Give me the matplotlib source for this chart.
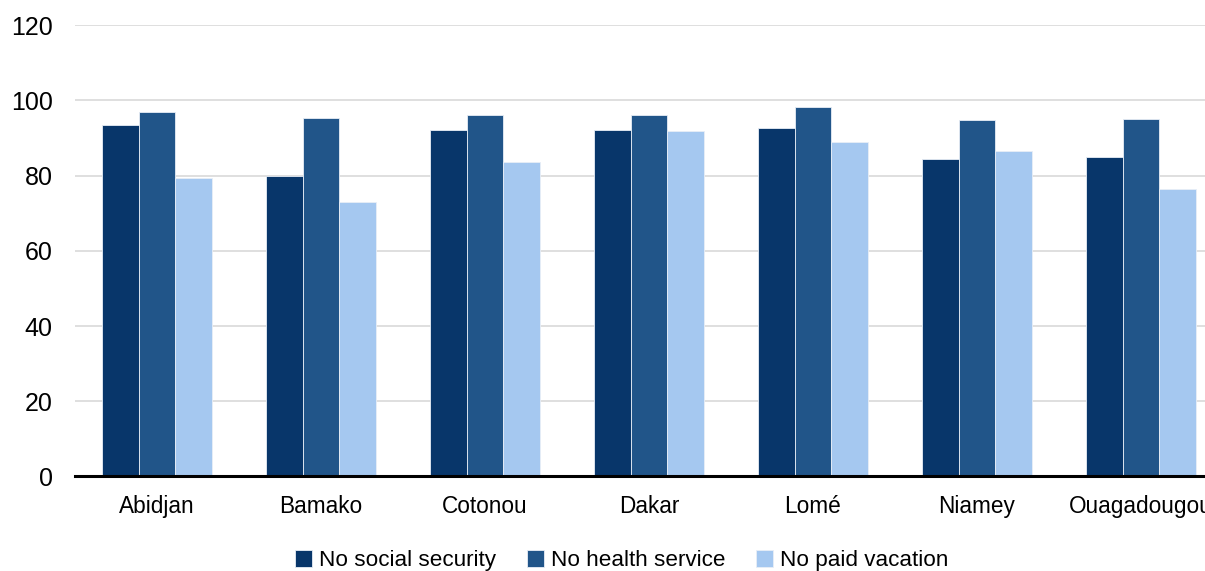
import numpy as np
import matplotlib
matplotlib.use("Agg")
import matplotlib.pyplot as plt

plt.rcParams['font.family'] = ['Liberation Sans', 'DejaVu Sans']

cities = ['Abidjan', 'Bamako', 'Cotonou', 'Dakar', 'Lomé', 'Niamey', 'Ouagadougou']
no_social_security = [93.4, 80.0, 92.0, 92.0, 92.7, 84.5, 84.9]
no_health_service = [96.8, 95.3, 96.2, 96.0, 98.2, 94.8, 95.0]
no_paid_vacation = [79.4, 72.9, 83.7, 91.8, 88.8, 86.6, 76.4]

series = [
    ('No social security', no_social_security, '#08366a'),
    ('No health service', no_health_service, '#215589'),
    ('No paid vacation', no_paid_vacation, '#a5c8f0'),
]

fig = plt.figure(figsize=(12.05, 5.71), dpi=100)
# axes runs a little past the right edge, so the last label gets cut
ax = fig.add_axes([0.0622, 0.1655, 0.9527, 0.7907])

x = np.arange(len(cities))
width = 0.223
for i, (name, vals, color) in enumerate(series):
    ax.bar(x + (i - 1) * width, vals, width, color=color, label=name,
           edgecolor='#e8eef6', linewidth=0.6, zorder=3)

ax.set_xlim(-0.5, len(cities) - 0.5)
ax.set_ylim(0, 120)
ax.set_yticks(range(0, 121, 20))
ax.grid(axis='y', color='#d9d9d9', linewidth=1.2, zorder=0)
ax.set_axisbelow(True)

for side in ['top', 'right', 'left']:
    ax.spines[side].set_visible(False)
ax.spines['bottom'].set_color('black')
ax.spines['bottom'].set_linewidth(2.2)
ax.spines['bottom'].set_zorder(4)

ax.set_xticks(x)
ax.set_xticklabels(cities, fontsize=16.3)
ax.tick_params(axis='x', length=0, pad=13)
ax.tick_params(axis='y', length=0, pad=16, labelsize=18)

fig.legend(loc='lower center', bbox_to_anchor=(0.516, -0.036), ncol=3,
           frameon=False, fontsize=16.2, handlelength=0.75, handleheight=0.75,
           handletextpad=0.3, columnspacing=1.38)

fig.savefig('out.png', dpi=100)
